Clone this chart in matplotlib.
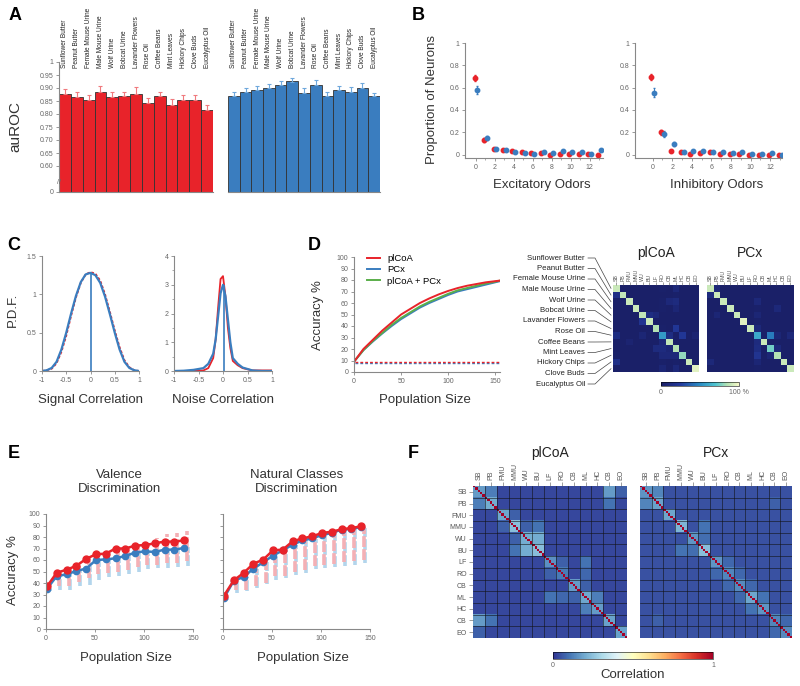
import matplotlib
matplotlib.use('Agg')
import matplotlib.pyplot as plt
import numpy as np
from matplotlib.colors import LinearSegmentedColormap

plt.rcParams['font.family'] = ['Liberation Sans', 'DejaVu Sans']

RED = '#e8232a'
BLUE = '#3a7dbf'
GREEN = '#5aae4a'
GRAY = '#666666'

odors = ['Sunflower Butter', 'Peanut Butter', 'Female Mouse Urine', 'Male Mouse Urine',
         'Wolf Urine', 'Bobcat Urine', 'Lavander Flowers', 'Rose Oil', 'Coffee Beans',
         'Mint Leaves', 'Hickory Chips', 'Clove Buds', 'Eucalyptus Oil']
abbr = ['SB', 'PB', 'FMU', 'MMU', 'WU', 'BU', 'LF', 'RO', 'CB', 'ML', 'HC', 'CB', 'EO']

# A: auROC per odor
auroc_plcoa = [0.878, 0.866, 0.855, 0.883, 0.867, 0.868, 0.878, 0.842, 0.868, 0.835, 0.855, 0.852, 0.815]
auroc_plcoa_err = [0.017, 0.018, 0.02, 0.024, 0.017, 0.016, 0.025, 0.02, 0.016, 0.022, 0.018, 0.02, 0.019]
auroc_pcx = [0.870, 0.885, 0.893, 0.900, 0.912, 0.925, 0.882, 0.912, 0.868, 0.893, 0.886, 0.900, 0.870]
auroc_pcx_err = [0.016, 0.015, 0.014, 0.017, 0.014, 0.012, 0.017, 0.018, 0.016, 0.015, 0.017, 0.018, 0.011]

# B: proportion of neurons vs number of odors
n_odors = np.arange(14)
exc_plcoa = [0.685, 0.13, 0.05, 0.04, 0.03, 0.02, 0.015, 0.015, 0.0, 0.01, 0.01, 0.01, 0.01, 0.0]
exc_plcoa_err = [0.025, 0.015, 0.005, 0.005, 0.005, 0.004, 0.004, 0.004, 0.003, 0.003, 0.003, 0.003, 0.003, 0.003]
exc_pcx = [0.58, 0.15, 0.05, 0.045, 0.025, 0.015, 0.01, 0.02, 0.015, 0.035, 0.025, 0.02, 0.01, 0.04]
exc_pcx_err = [0.035, 0.02, 0.006, 0.005, 0.005, 0.004, 0.004, 0.004, 0.004, 0.005, 0.004, 0.004, 0.003, 0.006]
inh_plcoa = [0.695, 0.2, 0.035, 0.02, 0.01, 0.015, 0.02, 0.01, 0.01, 0.005, 0.0, 0.0, 0.0, 0.0]
inh_plcoa_err = [0.025, 0.02, 0.005, 0.004, 0.003, 0.003, 0.003, 0.003, 0.003, 0.003, 0.003, 0.003, 0.003, 0.003]
inh_pcx = [0.555, 0.185, 0.095, 0.02, 0.035, 0.03, 0.025, 0.02, 0.015, 0.02, 0.01, 0.005, 0.015, 0.0]
inh_pcx_err = [0.04, 0.025, 0.02, 0.005, 0.005, 0.005, 0.004, 0.004, 0.004, 0.004, 0.003, 0.003, 0.003, 0.003]

# C: correlation PDFs
sig_x = [-1, -0.9, -0.8, -0.7, -0.6, -0.5, -0.4, -0.3, -0.2, -0.1, 0,
         0.1, 0.2, 0.3, 0.4, 0.5, 0.6, 0.7, 0.8, 0.9, 1]
sig_pcx = [0.0, 0.01, 0.04, 0.12, 0.28, 0.50, 0.75, 0.98, 1.16, 1.26, 1.28,
           1.25, 1.15, 0.97, 0.74, 0.50, 0.28, 0.12, 0.04, 0.01, 0.0]
sig_plcoa = [0.0, 0.01, 0.03, 0.10, 0.25, 0.46, 0.72, 0.96, 1.15, 1.26, 1.29,
             1.27, 1.18, 1.00, 0.77, 0.53, 0.31, 0.14, 0.05, 0.01, 0.0]
noise_x = [-1, -0.8, -0.6, -0.4, -0.3, -0.2, -0.15, -0.1, -0.05, 0, 0.05,
           0.1, 0.15, 0.2, 0.3, 0.4, 0.6, 0.8, 1]
noise_pcx = [0.0, 0.01, 0.04, 0.1, 0.25, 0.6, 1.1, 1.9, 2.7, 3.0, 2.6,
             1.8, 1.0, 0.45, 0.25, 0.12, 0.02, 0.0, 0.0]
noise_plcoa = [0.0, 0.0, 0.0, 0.02, 0.1, 0.45, 1.1, 2.2, 3.2, 3.3, 2.6,
               1.5, 0.8, 0.35, 0.2, 0.1, 0.02, 0.02, 0.02]

# D: decoding accuracy vs population size
pop = [1, 10, 20, 30, 40, 50, 60, 70, 80, 90, 100, 110, 120, 130, 140, 150, 155]
acc_plcoa = [10, 20, 28, 36, 43, 50, 55, 60, 64, 67.5, 70.5, 73, 75, 76.5, 78, 79, 79.5]
acc_pcx = [10, 19, 26.5, 33.5, 40, 46, 51, 56, 60, 63.5, 67, 70, 72, 74, 76, 78, 79]
acc_both = [10, 19, 27, 34, 41, 47, 52, 57, 61, 64.5, 68, 71, 73, 75, 77, 78.5, 79.5]
chance_plcoa = 8.3
chance_pcx = 7.9

conf_plcoa = [
    [90, 2, 2, 2, 2, 2, 2, 3, 2, 10, 2, 2, 2],
    [15, 88, 2, 2, 2, 2, 2, 2, 2, 3, 2, 2, 2],
    [2, 3, 90, 2, 2, 2, 2, 3, 10, 12, 2, 2, 2],
    [2, 2, 2, 90, 2, 2, 2, 3, 2, 8, 2, 2, 2],
    [2, 2, 2, 2, 88, 14, 10, 2, 2, 2, 2, 2, 2],
    [2, 2, 2, 2, 20, 90, 2, 2, 2, 2, 2, 2, 2],
    [2, 2, 2, 2, 2, 2, 85, 3, 2, 22, 2, 2, 2],
    [14, 2, 2, 2, 8, 2, 2, 55, 14, 2, 22, 2, 6],
    [2, 2, 6, 2, 2, 2, 2, 10, 88, 2, 2, 2, 2],
    [2, 2, 2, 2, 2, 2, 12, 12, 8, 85, 2, 2, 2],
    [3, 2, 2, 2, 2, 2, 2, 10, 10, 10, 80, 2, 2],
    [16, 2, 2, 2, 2, 2, 2, 3, 2, 3, 2, 90, 2],
    [2, 2, 2, 2, 2, 2, 2, 8, 2, 10, 2, 2, 95]]
conf_pcx = [
    [90, 10, 2, 2, 2, 2, 2, 2, 2, 2, 2, 2, 2],
    [12, 90, 2, 2, 2, 2, 2, 2, 2, 2, 2, 2, 2],
    [2, 2, 90, 2, 2, 2, 2, 10, 2, 2, 2, 2, 2],
    [2, 2, 2, 90, 2, 2, 2, 3, 2, 2, 10, 2, 2],
    [2, 8, 2, 2, 90, 2, 2, 8, 2, 2, 2, 2, 2],
    [2, 2, 2, 2, 2, 95, 2, 3, 2, 2, 2, 2, 2],
    [2, 2, 2, 2, 2, 2, 90, 10, 2, 2, 2, 2, 2],
    [2, 2, 2, 2, 2, 2, 2, 60, 2, 45, 8, 2, 10],
    [2, 2, 2, 2, 2, 2, 2, 12, 90, 2, 2, 2, 2],
    [2, 2, 2, 2, 2, 2, 2, 14, 2, 75, 10, 2, 2],
    [2, 2, 2, 2, 2, 2, 2, 20, 2, 8, 85, 2, 2],
    [10, 2, 2, 2, 2, 2, 2, 8, 2, 2, 2, 90, 2],
    [2, 2, 2, 2, 2, 2, 2, 3, 2, 2, 2, 2, 90]]

# E: valence / natural classes discrimination
e_x = [1, 11, 21, 31, 41, 51, 61, 71, 81, 91, 101, 111, 121, 131, 141]
val_plcoa = [37, 49, 51.5, 55, 61, 65, 65.5, 70, 70, 72.5, 73, 74.5, 76, 76, 77]
val_pcx = [35, 46, 47.5, 50.5, 52.5, 60, 60.5, 61.5, 63.5, 66.5, 67.5, 67, 69, 69, 70.5]
val_shuf_plcoa_lo = [36, 37, 37, 41, 44, 48, 48.5, 50, 51.5, 54, 56, 56, 57.5, 57.5, 59]
val_shuf_plcoa_hi = [38, 46, 49, 54.5, 59, 64.5, 66, 69, 69, 73, 75, 79, 82.5, 83.5, 85]
val_shuf_pcx_lo = [33, 34, 34, 37, 38.5, 43, 45, 46, 48, 50, 52.5, 53, 53, 54, 54.5]
val_shuf_pcx_hi = [36, 46, 48, 52, 55, 60, 61, 63, 64, 66, 68, 68, 69, 70, 71]
nat_plcoa = [29, 42.3, 48.7, 56.8, 60.3, 68.4, 69, 76.2, 78.8, 80.6, 83.5, 84.6, 86.7, 87.8, 89.3]
nat_pcx = [27, 42, 45.2, 52.5, 58, 63.8, 68.4, 73.3, 77, 78.8, 81.7, 83.5, 86.4, 87, 88.7]
nat_shuf_plcoa_lo = [28, 34, 34, 37.7, 40, 45.8, 45.8, 50, 51.6, 54.5, 56, 56.5, 58, 58.8, 60.3]
nat_shuf_plcoa_hi = [30, 43, 49, 57, 61, 68, 70, 76, 79, 81, 84, 85, 87, 88, 89]
nat_shuf_pcx_lo = [25, 31, 33, 36, 39, 43, 44, 47, 49, 52, 53, 54, 55, 56, 57]
nat_shuf_pcx_hi = [28, 42, 45, 52, 58, 63, 68, 73, 77, 78, 81, 83, 86, 87, 88]

# F: odor-trial correlation, block means (diagonal blocks + notable pairs)
corr_plcoa_diag = [0.17, 0.2, 0.19, 0.24, 0.2, 0.24, 0.15, 0.11, 0.17, 0.19, 0.17, 0.18, 0.18]
corr_plcoa_pairs = {(0, 1): 0.12, (0, 11): 0.17, (1, 11): 0.1, (3, 5): 0.1, (4, 5): 0.2,
                    (3, 4): 0.07, (6, 9): 0.1, (9, 10): 0.12, (8, 9): 0.07, (7, 9): 0.08,
                    (6, 7): 0.07, (2, 3): 0.07, (0, 12): 0.07}
corr_plcoa_base = 0.03
corr_pcx_diag = [0.16, 0.18, 0.19, 0.22, 0.16, 0.24, 0.16, 0.13, 0.14, 0.19, 0.16, 0.13, 0.14]
corr_pcx_pairs = {(0, 1): 0.13, (3, 5): 0.1, (4, 5): 0.09, (7, 8): 0.08, (8, 9): 0.08,
                  (9, 10): 0.1, (6, 7): 0.08, (11, 12): 0.08, (1, 11): 0.07}
corr_pcx_base = 0.045

W, H = 800, 686
fig = plt.figure(figsize=(8, 6.86), dpi=100)


def px_axes(x0, y0, x1, y1):
    return fig.add_axes([x0 / W, 1 - y1 / H, (x1 - x0) / W, (y1 - y0) / H])


def ftext(x, y, s, **kw):
    fig.text(x / W, 1 - y / H, s, ha=kw.pop('ha', 'center'), va=kw.pop('va', 'center'), **kw)


def style(ax, left=True):
    for s in ['top', 'right']:
        ax.spines[s].set_visible(False)
    for s in ['left', 'bottom']:
        ax.spines[s].set_color('#888888')
        ax.spines[s].set_linewidth(0.8)
    ax.tick_params(labelsize=5, colors='#888888', labelcolor=GRAY, length=2, width=0.6, pad=2)
    if not left:
        ax.spines['left'].set_visible(False)
        ax.tick_params(left=False, labelleft=False)


LBL = 9.5
for letter, x, y in [('A', 15, 15), ('B', 418, 16), ('C', 14, 246), ('D', 314, 246), ('E', 14, 454), ('F', 413, 454)]:
    ftext(x, y, letter, fontsize=13, fontweight='bold')

# ---- A ----
for vals, errs, col, ecol, x0, x1, left in [
        (auroc_plcoa, auroc_plcoa_err, RED, '#f07a7e', 59, 213, True),
        (auroc_pcx, auroc_pcx_err, BLUE, '#6fa8dc', 228, 380, False)]:
    ax = px_axes(x0, 62, x1, 192)
    xs = np.arange(len(vals))
    ax.bar(xs, np.array(vals) - 0.5, bottom=0.5, width=1, color=col, edgecolor='#333333', lw=0.6)
    ax.errorbar(xs, vals, yerr=[np.zeros(len(vals)), errs], fmt='none', ecolor=ecol,
                elinewidth=0.8, capsize=1.2, capthick=0.8)
    ax.set_xlim(-0.5, 12.5)
    ax.set_ylim(0.5, 1.0)
    ax.set_xticks([])
    style(ax, left)
    if left:
        ticks = [0.5, 0.6, 0.65, 0.7, 0.75, 0.8, 0.85, 0.9, 0.95, 1.0]
        ax.set_yticks(ticks)
        ax.set_yticklabels(['0'] + ['%.2f' % t for t in ticks[1:-1]] + ['1'])
        ax.text(-0.5, 0.538, '//', ha='center', va='center', fontsize=5, color=GRAY)
    for i, name in enumerate(odors):
        ax.text(i, 0.975, name, rotation=90, ha='center', va='bottom', fontsize=4.7, color='#222222')
ftext(15, 127, 'auROC', fontsize=11, rotation=90, color='#333333')

# ---- B ----
for r, re_, b, be, x0, x1, left_px, xl, lab in [
        (exc_plcoa, exc_plcoa_err, exc_pcx, exc_pcx_err, 465, 603, -1.16, 13.4, 'Excitatory Odors'),
        (inh_plcoa, inh_plcoa_err, inh_pcx, inh_pcx_err, 635, 782, -1.8, 13.2, 'Inhibitory Odors')]:
    ax = px_axes(x0, 43, x1, 158)
    ax.errorbar(n_odors - 0.15, r, yerr=re_, fmt='o', color=RED, ms=3.2, elinewidth=0.7, capsize=1)
    ax.errorbar(n_odors + 0.15, b, yerr=be, fmt='o', color=BLUE, ms=3.2, elinewidth=0.7, capsize=1)
    ax.set_xlim(left_px, xl)
    ax.set_ylim(-0.03, 1)
    ax.set_xticks(range(0, 13, 2))
    ax.set_xticks(range(0, 14), minor=True)
    ax.set_yticks([0, 0.2, 0.4, 0.6, 0.8, 1])
    ax.set_yticklabels(['0', '0.2', '0.4', '0.6', '0.8', '1'])
    style(ax)
    ax.tick_params(which='minor', length=1.5, colors='#888888', width=0.5)
    ftext((x0 + x1) / 2 + 8, 185, lab, fontsize=LBL, color='#333333')
ftext(432, 100, 'Proportion of Neurons', fontsize=LBL, rotation=90, color='#333333')

# ---- C ----
ax = px_axes(42, 256, 139, 371)
ax.plot(sig_x, sig_plcoa, color=RED, lw=1.3, ls=(0, (1.5, 1)))
ax.plot(sig_x, sig_pcx, color=BLUE, lw=1.6)
ax.vlines(0, 0, max(sig_pcx), color=BLUE, lw=1.2)
ax.set_xlim(-1, 1)
ax.set_ylim(0, 1.5)
ax.set_xticks([-1, -0.5, 0, 0.5, 1])
ax.set_xticklabels(['-1', '-0.5', '0', '0.5', '1'])
ax.set_yticks([0, 0.5, 1, 1.5])
ax.set_yticklabels(['0', '0.5', '1', '1.5'])
style(ax)
ftext(90, 400, 'Signal Correlation', fontsize=LBL, color='#333333')
ftext(13, 310, 'P.D.F.', fontsize=LBL, rotation=90, color='#333333')

ax = px_axes(174, 256, 272, 371)
ax.plot(noise_x, noise_plcoa, color=RED, lw=1.3)
ax.plot(noise_x, noise_pcx, color=BLUE, lw=1.6)
ax.vlines(0.02, 0, max(noise_pcx), color=BLUE, lw=1.2)
ax.set_xlim(-1, 1)
ax.set_ylim(0, 4)
ax.set_xticks([-1, -0.5, 0, 0.5, 1])
ax.set_xticklabels(['-1', '-0.5', '0', '0.5', '1'])
ax.set_yticks([0, 1, 2, 3, 4])
ax.set_yticks([0.5, 1.5, 2.5, 3.5], minor=True)
style(ax)
ax.tick_params(which='minor', length=1.5, colors='#888888', width=0.5)
ftext(223, 400, 'Noise Correlation', fontsize=LBL, color='#333333')

# ---- D (line) ----
ax = px_axes(354, 257, 500, 372)
ax.plot(pop, acc_pcx, color=BLUE, lw=1.4, label='PCx')
ax.plot(pop, acc_both, color=GREEN, lw=1.4, label='plCoA + PCx')
ax.plot(pop, acc_plcoa, color=RED, lw=1.4, label='plCoA')
ax.plot(pop, [chance_pcx] * len(pop), color=BLUE, lw=1.0, ls=(0, (2, 1.5)))
ax.plot(pop, [chance_plcoa] * len(pop), color=RED, lw=1.0, ls=(0, (2, 1.5)))
ax.set_xlim(0, 155)
ax.set_ylim(0, 100)
ax.set_xticks([0, 50, 100, 150])
ax.set_yticks(range(0, 101, 10))
style(ax)
h, l = ax.get_legend_handles_labels()
ax.legend([h[2], h[0], h[1]], [l[2], l[0], l[1]], loc='upper left', bbox_to_anchor=(0.06, 1.06),
          frameon=False, fontsize=6.8, handlelength=1.4, labelspacing=0.25, borderaxespad=0)
ftext(425, 400, 'Population Size', fontsize=LBL, color='#333333')
ftext(318, 315, 'Accuracy %', fontsize=LBL, rotation=90, color='#333333')

# ---- D (confusion matrices) ----
cmap_d = LinearSegmentedColormap.from_list(
    'conf', [(0, '#1a1e64'), (0.25, '#233a9c'), (0.5, '#2a8cc4'), (0.7, '#4fc4d0'),
             (0.85, '#b4e2b4'), (1, '#f6f8c8')])
mat_top, mat_bot = 285, 372
for M, x0, x1, title in [(conf_plcoa, 613, 699, 'plCoA'), (conf_pcx, 707, 793, 'PCx')]:
    ax = px_axes(x0, mat_top, x1, mat_bot)
    im_d = ax.imshow(np.array(M), cmap=cmap_d, vmin=0, vmax=100, aspect='auto')
    ax.xaxis.tick_top()
    ax.set_xticks(range(13))
    ax.set_xticklabels(abbr, rotation=90, fontsize=3.8, color='#333333')
    ax.set_yticks([])
    ax.tick_params(axis='x', length=2, width=0.4, colors='#555555', pad=1)
    for s in ax.spines.values():
        s.set_visible(False)
    ax.set_title(title, fontsize=10, pad=20, color='#222222')

ov = fig.add_axes([0, 0, 1, 1], zorder=-1)
ov.set_xlim(0, W)
ov.set_ylim(H, 0)
ov.axis('off')
row_h = (mat_bot - mat_top) / 13
for i, name in enumerate(odors):
    y_lab = 258 + i * 10.5
    y_row = mat_top + (i + 0.5) * row_h
    ov.text(585, y_lab, name, ha='right', va='center', fontsize=5.6, color='#222222')
    ov.plot([588, 595, 611], [y_lab, y_lab, y_row], color='#444444', lw=0.5)

cax = px_axes(661, 382, 739, 386)
cb = fig.colorbar(im_d, cax=cax, orientation='horizontal', ticks=[0, 100])
cb.ax.set_xticklabels(['0', '100 %'])
cb.ax.tick_params(labelsize=5, length=0, labelcolor=GRAY, pad=2)
cb.outline.set_linewidth(0.4)

# ---- E ----
for r, b, rlo, rhi, blo, bhi, x0, x1, left, title in [
        (val_plcoa, val_pcx, val_shuf_plcoa_lo, val_shuf_plcoa_hi, val_shuf_pcx_lo, val_shuf_pcx_hi,
         46, 193, True, 'Valence\nDiscrimination'),
        (nat_plcoa, nat_pcx, nat_shuf_plcoa_lo, nat_shuf_plcoa_hi, nat_shuf_pcx_lo, nat_shuf_pcx_hi,
         223, 370, False, 'Natural Classes\nDiscrimination')]:
    ax = px_axes(x0, 514, x1, 629)
    xs = np.array(e_x)
    ax.vlines(xs + 3.5, blo, bhi, color='#b3d5ec', lw=2.6, linestyles=(0, (3, 0.6)))
    ax.vlines(xs + 2.5, rlo, rhi, color='#f4b0b5', lw=2.6, linestyles=(0, (3, 0.6)))
    ax.plot(xs, b, color=BLUE, lw=1.8, marker='o', ms=4.5)
    ax.plot(xs, r, color=RED, lw=1.8, marker='o', ms=5)
    ax.set_xlim(0, 150)
    ax.set_ylim(0, 100)
    ax.set_xticks([0, 50, 100, 150])
    ax.set_yticks(range(0, 101, 10))
    style(ax)
    if not left:
        ax.tick_params(labelleft=False)
    ax.set_title(title, fontsize=LBL, pad=16, color='#333333', linespacing=1.15)
    ftext((x0 + x1) / 2 + 6, 658, 'Population Size', fontsize=LBL, color='#333333')
ftext(13, 570, 'Accuracy %', fontsize=LBL, rotation=90, color='#333333')


# ---- F ----
def trial_matrix(diag, pairs, base, reps=5):
    B = np.full((13, 13), base)
    np.fill_diagonal(B, diag)
    for (i, j), v in pairs.items():
        B[i, j] = v
        B[j, i] = v
    M = np.kron(B, np.ones((reps, reps)))
    np.fill_diagonal(M, 1.0)
    return M


for diag, pairs, base, x0, x1, title, left in [
        (corr_plcoa_diag, corr_plcoa_pairs, corr_plcoa_base, 473, 627, 'plCoA', True),
        (corr_pcx_diag, corr_pcx_pairs, corr_pcx_base, 640, 792, 'PCx', False)]:
    ax = px_axes(x0, 486, x1, 638)
    im_f = ax.imshow(trial_matrix(diag, pairs, base), cmap='RdYlBu_r', vmin=0, vmax=1,
                     aspect='auto', extent=(-0.5, 12.5, 12.5, -0.5), interpolation='nearest')
    for k in range(12):
        ax.axhline(k + 0.5, color='#111111', lw=0.4)
        ax.axvline(k + 0.5, color='#111111', lw=0.4)
    ax.xaxis.tick_top()
    ax.set_xticks(range(13))
    ax.set_xticklabels(abbr, rotation=90, fontsize=5, color='#333333')
    ax.set_yticks(range(13))
    ax.set_yticklabels(abbr if left else [], fontsize=5, color='#333333')
    ax.tick_params(length=3, width=0.4, colors='#555555', pad=1.5)
    if not left:
        ax.tick_params(left=False)
    for s in ax.spines.values():
        s.set_visible(False)
    ax.set_title(title, fontsize=10, pad=21, color='#222222')

cax = px_axes(553, 652, 713, 659)
cb = fig.colorbar(im_f, cax=cax, orientation='horizontal', ticks=[0, 1])
cb.ax.tick_params(labelsize=5, length=0, labelcolor=GRAY, pad=2)
cb.outline.set_linewidth(0.4)
ftext(633, 675, 'Correlation', fontsize=LBL, color='#333333')

fig.savefig('out.png', dpi=100, facecolor='white')
